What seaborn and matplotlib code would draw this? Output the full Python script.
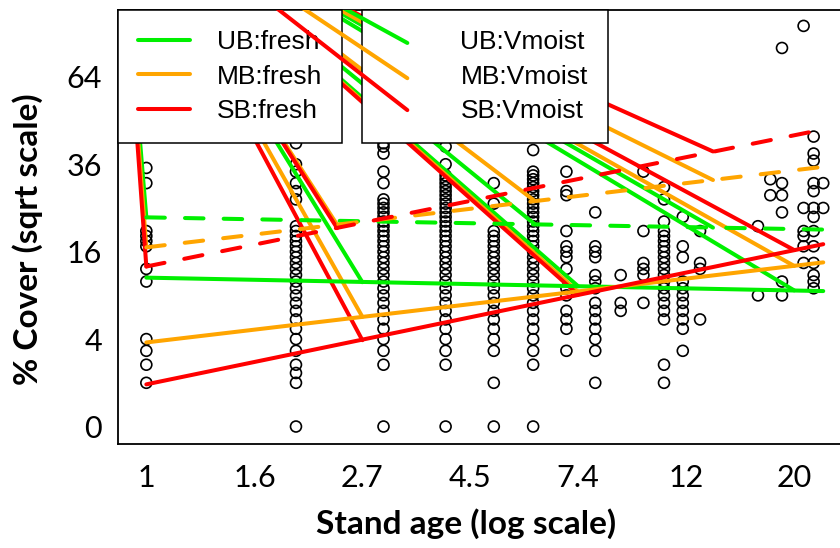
import numpy as np
import pandas as pd
import matplotlib
matplotlib.use("Agg")
import matplotlib.pyplot as plt
from matplotlib.lines import Line2D
from matplotlib.ticker import NullLocator
import seaborn as sns

# ---------------- data ----------------
cover_age1 = [35, 31, 20, 19, 18, 17, 13, 11, 4, 3, 2, 1]
cover_age2 = [42, 36, 34, 31, 29, 27, 21, 20, 19, 18, 17, 16, 15, 14, 13, 12, 11,
              10, 9, 8, 7, 6, 5, 4, 3, 2, 1.5, 1, 0]
cover_age3 = [42, 41, 39, 34, 31, 27, 26, 25, 24, 23, 22, 21, 20, 19, 18, 17, 16,
              15, 14, 13, 12, 11, 10, 9, 8, 7, 6, 5, 4, 3, 2, 0]
cover_age4 = [41, 36, 33, 32, 31, 30, 29, 28, 27, 26, 25, 24, 23, 22, 21, 20, 19,
              18, 17, 16, 15, 14, 13, 12, 11, 10, 9, 8, 7, 6, 5, 4, 3, 2, 0]
cover_age5 = [31, 26, 20, 19, 18, 17, 16, 15, 14, 13, 12, 11, 10, 9, 8, 7, 6, 5,
              4, 3, 1, 0]
cover_age6 = [40, 34, 33, 32, 31, 30, 29, 28, 27, 26, 25, 24, 23, 22, 21, 20, 19,
              18, 17, 16, 15, 14, 13, 12, 11, 10, 9, 8, 7, 6, 5, 4, 3, 2, 0]
cover_age7 = [34, 29, 28, 20, 17, 16, 15, 13, 10, 9, 7, 6, 5, 3]
cover_age8 = [24, 17, 16, 15, 12, 11, 10, 8, 7, 6, 5, 4, 3, 1]
cover_age9 = [12, 8, 7]
cover_age10 = [34, 20, 14, 13, 12, 8]
cover_age11 = [30, 27, 22, 20, 19, 18, 17, 16, 15, 14, 13, 12, 11, 10, 9, 8, 7, 6, 2, 1]
cover_age12 = [23, 17, 15, 11, 10, 9, 8, 7, 6, 5, 3]
cover_age13 = [20, 14, 13, 6]
cover_age17 = [21, 9]
cover_age18 = [32, 28]
cover_age19 = [75, 31, 28, 24, 11, 9]
cover_age21 = [84, 25, 20, 19, 17, 14]
cover_age22 = [44, 39, 37, 31, 29, 25, 23, 20, 17, 14, 12, 11, 10]
cover_age23 = [31, 25]

stand_groups = ["UB", "MB", "SB"]
group_colors = ["#00F000", "#FFA500", "#FF0000"]

# fitted lines: cover at first and last stand age
line_ages = [1, 23]
fresh_start = [11.6, 3.7, 0.93]
fresh_end = [9.6, 14.1, 17.4]
vmoist_start = [22.9, 16.8, 13.4]
vmoist_end = [20.3, 35.3, 46.2]

# connector lines, all leaving one point above the top-left corner
origin_age = 0.88
origin_cover = 153.5
fresh_join_ages = [2.72, 7.39, 20.1]
fresh_join_cover = {"UB": [10.9, 10.3, 9.7],
                    "MB": [6.3, 9.5, 13.5],
                    "SB": [3.9, 9.1, 16.3]}
vmoist_join_ages = {"UB": [1, 6.05, 13.8],
                    "MB": [1, 2.42, 6.05, 13.8],
                    "SB": [1, 2.42, 13.8]}
vmoist_join_cover = {"UB": [22.9, 21.4, 20.7],
                     "MB": [16.8, 21.3, 26.6, 31.8],
                     "SB": [13.4, 20.6, 39.6]}
over_legend_age = 3.35
over_legend_cover = [77, 63.5, 52.4]

xtick_values = [1, 1.65, 2.72, 4.48, 7.39, 12.18, 20.09]
xtick_labels = ["1", "1.6", "2.7", "4.5", "7.4", "12", "20"]
ytick_values = [0, 4, 16, 36, 64]

# ---------------- build table ----------------
cols = {1: cover_age1, 2: cover_age2, 3: cover_age3, 4: cover_age4, 5: cover_age5,
        6: cover_age6, 7: cover_age7, 8: cover_age8, 9: cover_age9, 10: cover_age10,
        11: cover_age11, 12: cover_age12, 13: cover_age13, 17: cover_age17,
        18: cover_age18, 19: cover_age19, 21: cover_age21, 22: cover_age22,
        23: cover_age23}
rows = [(a, c) for a, vals in cols.items() for c in vals]
df = pd.DataFrame(rows, columns=["age", "cover"])

# ---------------- figure ----------------
sns.set_style("white")
plt.rcParams["font.family"] = ["Lato", "DejaVu Sans"]
plt.rcParams["text.color"] = "black"
plt.rcParams["axes.labelcolor"] = "black"
plt.rcParams["xtick.color"] = "black"
plt.rcParams["ytick.color"] = "black"

fig = plt.figure(figsize=(8.4, 5.48), dpi=100)
ax = fig.add_axes([118 / 840, 104 / 548, 735 / 840, 434 / 548])


def fwd(y):
    y = np.asarray(y, dtype=float)
    return np.sign(y) * np.sqrt(np.abs(y))


def inv(y):
    y = np.asarray(y, dtype=float)
    return np.sign(y) * y ** 2


ax.set_xscale("log")
ax.set_yscale("function", functions=(fwd, inv))
ax.set_xlim(0.877, 26.4)
ax.set_ylim(-0.16, 90.8)

sns.scatterplot(data=df, x="age", y="cover", ax=ax, marker="o", s=62,
                facecolors="none", edgecolor="black", linewidth=1.2,
                zorder=2, legend=False)

LW = 2.9
for i, g in enumerate(stand_groups):
    col = group_colors[i]
    for a, c in zip(fresh_join_ages, fresh_join_cover[g]):
        ax.plot([origin_age, a], [origin_cover, c], color=col, lw=LW,
                solid_capstyle="round", zorder=3)
    for a, c in zip(vmoist_join_ages[g], vmoist_join_cover[g]):
        ax.plot([origin_age, a], [origin_cover, c], color=col, lw=LW,
                solid_capstyle="round", zorder=3)
for i, g in enumerate(stand_groups):
    col = group_colors[i]
    ax.plot(line_ages, [fresh_start[i], fresh_end[i]], color=col, lw=LW,
            solid_capstyle="round", zorder=3)
    ax.plot(line_ages, [vmoist_start[i], vmoist_end[i]], color=col, lw=LW,
            dashes=(4.6, 5.0), dash_capstyle="round", zorder=3)

# axes styling
for s in ["top", "left", "bottom", "right"]:
    ax.spines[s].set_color("black")
    ax.spines[s].set_linewidth(1.3)
ax.set_xticks(xtick_values)
ax.set_xticklabels(xtick_labels)
ax.xaxis.set_minor_locator(NullLocator())
ax.set_yticks(ytick_values)
ax.set_yticklabels([str(v) for v in ytick_values])
ax.yaxis.set_minor_locator(NullLocator())
ax.tick_params(axis="both", direction="out", length=9.5, width=1.2,
               colors="black", labelsize=22)
ax.tick_params(axis="x", pad=5)
ax.tick_params(axis="y", pad=2)

ax.set_xlabel("Stand age (log scale)", fontsize=24, fontweight="bold",
              color="black")
ax.set_ylabel("% Cover (sqrt scale)", fontsize=24, fontweight="bold",
              color="black")
ax.xaxis.set_label_coords(0.473, -0.148)
ax.yaxis.set_label_coords(-0.102, 0.472)
ax.grid(False)

# legends
leg_kw = dict(loc="upper left", frameon=True, fancybox=False, framealpha=1,
              edgecolor="black", borderaxespad=0, handlelength=1.98,
              handletextpad=1.0, borderpad=0.76, labelspacing=0.4,
              prop={"family": ["Liberation Sans", "DejaVu Sans"], "size": 19})
fresh_handles = [Line2D([], [], color=c, lw=LW, solid_capstyle="round")
                 for c in group_colors]
leg1 = ax.legend(fresh_handles, [f"{g}:fresh" for g in stand_groups],
                 bbox_to_anchor=(0.0, 1.0), **leg_kw)
leg1.get_frame().set_linewidth(1.1)
ax.add_artist(leg1)
vm_handles = [Line2D([], [], color="none", lw=LW) for _ in group_colors]
leg2 = ax.legend(vm_handles, [f"{g}:Vmoist" for g in stand_groups],
                 bbox_to_anchor=((361.7 - 118) / 735, 1.0), **leg_kw)
leg2.get_frame().set_linewidth(1.1)
for t in list(leg1.get_texts()) + list(leg2.get_texts()):
    t.set_color("black")

# three lines that run over the legend boxes
for i, g in enumerate(stand_groups):
    ax.plot([origin_age, over_legend_age], [origin_cover, over_legend_cover[i]],
            color=group_colors[i], lw=LW, solid_capstyle="round", zorder=6)

fig.savefig("out.png", dpi=100)
